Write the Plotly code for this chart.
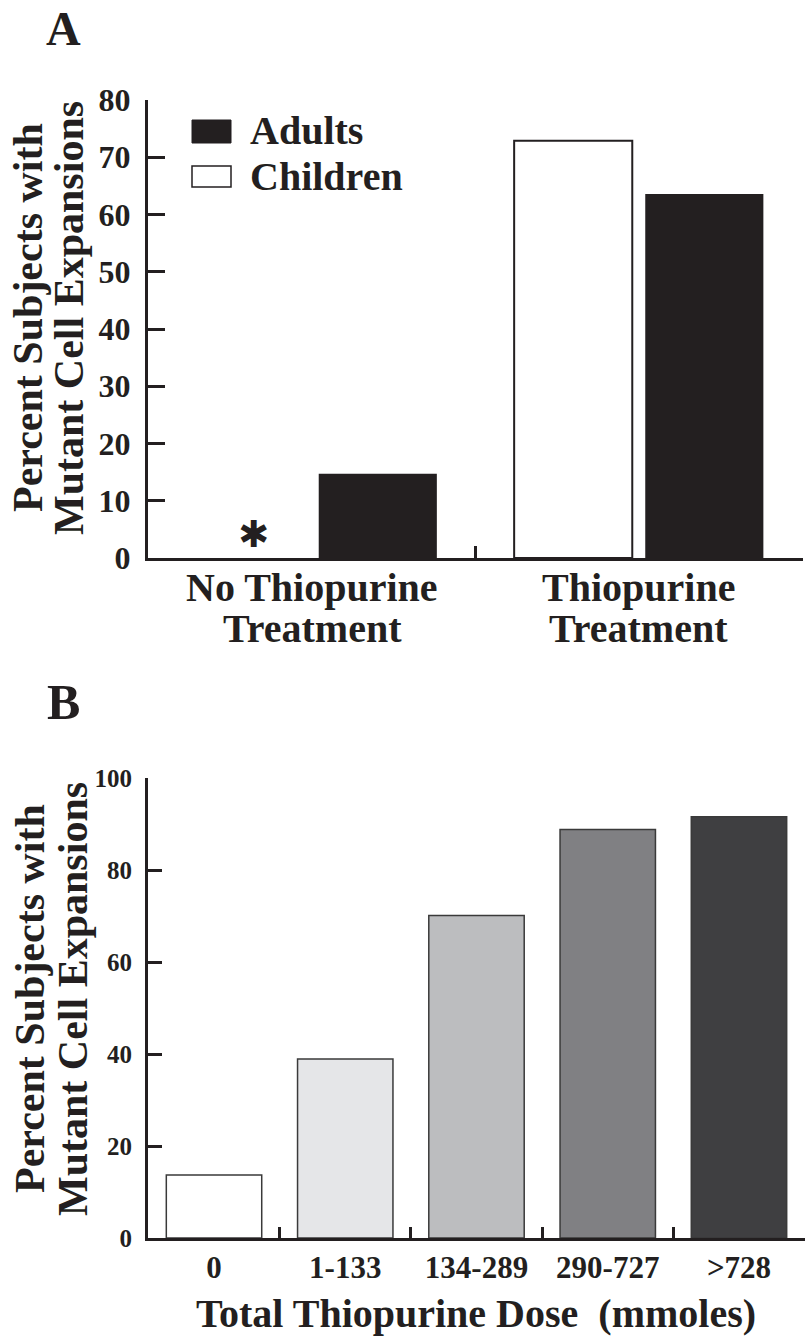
import plotly.graph_objects as go

# ---------------- data ----------------
groups_a = ["No Thiopurine Treatment", "Thiopurine Treatment"]
group_lines_a = [["No Thiopurine", "Treatment"], ["Thiopurine", "Treatment"]]
children_a = [0, 72.9]
adults_a = [14.7, 63.6]

dose_cats = ["0", "1-133", "134-289", "290-727", ">728"]
dose_pct = [13.7, 38.9, 70.1, 88.8, 91.6]
dose_colors = ["#ffffff", "#e5e6e8", "#bcbdbf", "#808083", "#3f3f41"]

ytick_a = [0, 10, 20, 30, 40, 50, 60, 70, 80]
ytick_b = [0, 20, 40, 60, 80, 100]

# ---------------- styling ----------------
W, H = 809, 1341
FONT = "Liberation Serif, Times New Roman, serif"
INK = "#231f20"

def px(x):
    return x / W

def py(y):
    return 1 - y / H

fig = go.Figure()

fig.add_trace(go.Bar(
    x=groups_a, y=children_a, name="Children",
    marker=dict(color="#ffffff", line=dict(color=INK, width=[0, 2])),
    xaxis="x", yaxis="y", showlegend=False,
))
fig.add_trace(go.Bar(
    x=groups_a, y=adults_a, name="Adults",
    marker=dict(color=INK, line=dict(color=INK, width=0)),
    xaxis="x", yaxis="y", showlegend=False,
))
fig.add_trace(go.Bar(
    x=dose_cats, y=dose_pct, width=0.727,
    marker=dict(color=dose_colors, line=dict(color="#3a3a3a", width=1.5)),
    xaxis="x2", yaxis="y2", showlegend=False,
))

axis_common = dict(
    showline=True, linecolor=INK, linewidth=3, mirror=False,
    showgrid=False, zeroline=False, ticks="inside", tickcolor=INK,
    tickwidth=3, fixedrange=True, automargin=False,
)

fig.update_layout(
    width=W, height=H,
    margin=dict(l=0, r=0, t=0, b=0, autoexpand=False),
    paper_bgcolor="white", plot_bgcolor="white",
    barmode="group", bargap=0.197, bargroupgap=0.099,
    font=dict(family=FONT, color=INK),
    xaxis=dict(
        axis_common, domain=[px(148), px(803)], anchor="y",
        type="category", tickson="boundaries", ticklen=12,
        showticklabels=False, range=[-0.503, 1.503],
    ),
    yaxis=dict(
        axis_common, domain=[py(558), py(100)], anchor="x",
        range=[0, 80], tickvals=ytick_a, ticklen=17, ticklabelstandoff=8,
        tickfont=dict(family=FONT, size=32, color=INK, weight="bold"),
    ),
    xaxis2=dict(
        axis_common, domain=[px(148), px(805)], anchor="y2",
        type="category", tickson="boundaries", ticklen=11,
        range=[-0.503, 4.503], ticklabelstandoff=0,
        tickfont=dict(family=FONT, size=31, color=INK, weight="bold"),
    ),
    yaxis2=dict(
        axis_common, domain=[py(1238), py(778)], anchor="x2",
        range=[0, 100], tickvals=ytick_b, ticklen=14, ticklabelstandoff=8,
        tickfont=dict(family=FONT, size=25, color=INK, weight="bold"),
    ),
)

ann = []
def txt(text, x, y, size, xanchor="center", yanchor="middle", angle=0, xref="paper",
        family=FONT, **kw):
    ann.append(dict(text=text, x=x, y=y, xref=xref, yref="paper", showarrow=False,
                    xanchor=xanchor, yanchor=yanchor, textangle=angle,
                    font=dict(family=family, size=size, color=INK, weight="bold"), **kw))

# panel letters
txt("A", px(64), 1.0, 48, yanchor="top")
txt("B", px(63), py(702), 50)

# panel A y title
txt("Percent Subjects with", px(28), py(318), 42, angle=-90)
txt("Mutant Cell Expansions", px(69), py(318), 42, angle=-90)
# panel B y title
txt("Percent Subjects with", px(30), py(999), 42, angle=-90)
txt("Mutant Cell Expansions", px(73), py(999), 42, angle=-90)

# panel A category labels
for g, lines in zip(groups_a, group_lines_a):
    txt(lines[0], g, py(587), 40, xref="x")
    txt(lines[1], g, py(628), 40, xref="x")

# asterisk for children with no treatment (zero value)
txt("\u2731", groups_a[0], py(534), 37, xref="x", xshift=-59, family="DejaVu Sans")

# panel B x title
txt("Total Thiopurine Dose&nbsp;&nbsp;(mmoles)", px(476), py(1313), 40)

# legend (manual)
shapes = [
    dict(type="rect", xref="paper", yref="paper", x0=px(192), x1=px(231), y0=py(143), y1=py(120),
         fillcolor=INK, line=dict(color=INK, width=1)),
    dict(type="rect", xref="paper", yref="paper", x0=px(192), x1=px(231), y0=py(187), y1=py(166),
         fillcolor="white", line=dict(color=INK, width=1.5)),
]
txt("Adults", px(248), py(131), 40, xanchor="left")
txt("Children", px(248), py(176), 40, xanchor="left")

fig.update_layout(annotations=ann, shapes=shapes)

fig.write_html(
    "out.html",
    config={"displayModeBar": False, "staticPlot": True},
    post_script="document.body.style.margin='0';document.body.style.padding='0';",
)
